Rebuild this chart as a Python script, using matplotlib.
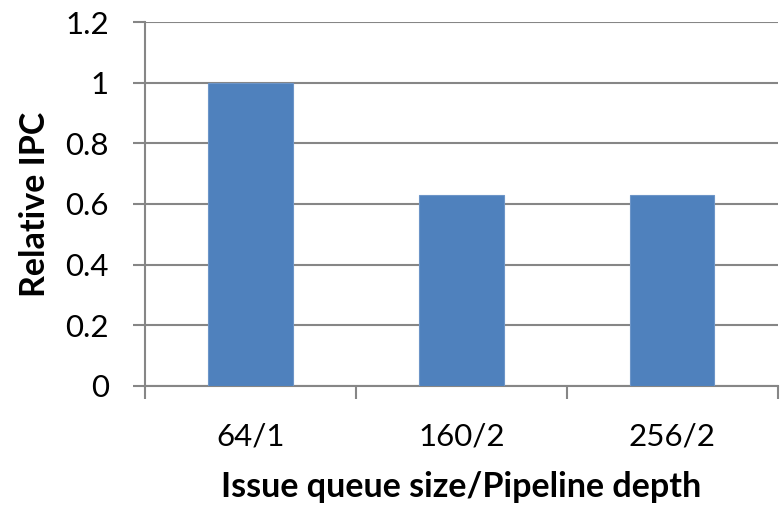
import numpy as np
import matplotlib.pyplot as plt

# Relative IPC for each issue-queue size / pipeline-depth configuration
configs = ["64/1", "160/2", "256/2"]
relative_ipc = [1.0, 0.63, 0.63]

BAR_COLOR = "#4F81BD"
AXIS_GRAY = "#868686"

plt.rcParams["font.family"] = ["Lato", "DejaVu Sans"]

fig = plt.figure(figsize=(7.84, 5.07), dpi=100)
ax = fig.add_axes([0.185, 0.2387, 0.807, 0.7179])

x = np.arange(len(configs))
ax.bar(x, relative_ipc, width=0.4, color=BAR_COLOR, edgecolor="#6D95C8",
       linewidth=0.8, zorder=3)

ax.set_xlim(-0.5, len(configs) - 0.5)
ax.set_ylim(0, 1.2)
ax.set_yticks(np.arange(0, 1.21, 0.2))
ax.set_yticklabels(["0", "0.2", "0.4", "0.6", "0.8", "1", "1.2"])

# category labels centred under bars, tick marks on the category boundaries
ax.set_xticks(np.arange(len(configs) + 1) - 0.5)
ax.set_xticklabels([])
ax.set_xticks(x, minor=True)
ax.set_xticklabels(configs, minor=True)
ax.tick_params(axis="x", which="minor", length=0, labelsize=22.5, pad=26)
ax.tick_params(axis="x", which="major", length=9, width=1.5, color=AXIS_GRAY)
ax.tick_params(axis="y", length=9, width=1.5, color=AXIS_GRAY, labelsize=22.5,
               pad=17)

ax.grid(axis="y", color=AXIS_GRAY, linewidth=1.5, zorder=0)
ax.set_axisbelow(True)

for side in ["top", "right"]:
    ax.spines[side].set_visible(False)
for side in ["left", "bottom"]:
    ax.spines[side].set_color(AXIS_GRAY)
    ax.spines[side].set_linewidth(1.5)

ax.set_xlabel("Issue queue size/Pipeline depth", fontsize=24.5, fontweight="bold",
              labelpad=15)
ax.set_ylabel("Relative IPC", fontsize=24.5, fontweight="bold", labelpad=10)

plt.savefig("out.png", dpi=100)
plt.close()
